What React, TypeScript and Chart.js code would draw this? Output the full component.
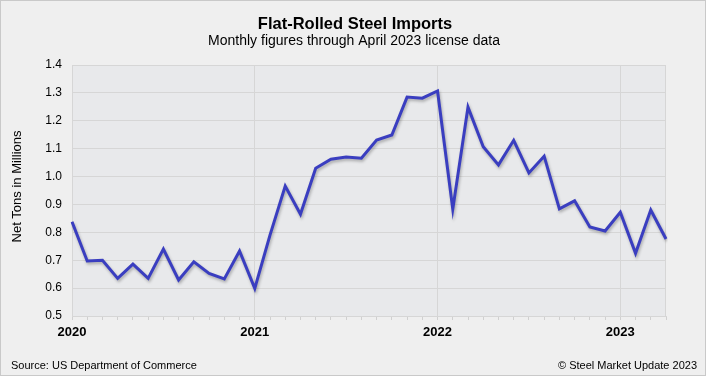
import React, { useEffect, useRef } from "react";
import { Chart, registerables } from "chart.js";

Chart.register(...registerables);

const MONTHS = ["Jan", "Feb", "Mar", "Apr", "May", "Jun", "Jul", "Aug", "Sep", "Oct", "Nov", "Dec"];
const YEARS = [2020, 2021, 2022, 2023];

const imports2020 = [0.838, 0.697, 0.700, 0.635, 0.686, 0.635, 0.740, 0.629, 0.694, 0.653, 0.633, 0.733];
const imports2021 = [0.599, 0.790, 0.966, 0.865, 1.030, 1.062, 1.070, 1.066, 1.131, 1.149, 1.285, 1.281];
const imports2022 = [1.307, 0.883, 1.249, 1.107, 1.042, 1.130, 1.013, 1.073, 0.884, 0.913, 0.819, 0.805];
const imports2023 = [0.872, 0.725, 0.880, 0.776];

const yTicks = [0.5, 0.6, 0.7, 0.8, 0.9, 1.0, 1.1, 1.2, 1.3, 1.4];

const TITLE = "Flat-Rolled Steel Imports";
const SUBTITLE = "Monthly figures through April 2023 license data";
const Y_TITLE = "Net Tons in Millions";
const SOURCE = "Source: US Department of Commerce";
const COPYRIGHT = "\u00A9 Steel Market Update 2023";

const FONT = "'Liberation Sans', Arial, sans-serif";

export default function App() {
  const ref = useRef<HTMLCanvasElement>(null);

  useEffect(() => {
    const values = [...imports2020, ...imports2021, ...imports2022, ...imports2023];
    const labels: string[] = [];
    const yearBuckets = [imports2020, imports2021, imports2022, imports2023];
    yearBuckets.forEach((arr, yi) => {
      arr.forEach((_, mi) => labels.push(`${MONTHS[mi]} ${YEARS[yi]}`));
    });

    const decor = {
      id: "decor",
      beforeDraw(chart: any) {
        const { ctx, chartArea } = chart;
        ctx.save();
        ctx.fillStyle = "#efefef";
        ctx.fillRect(0, 0, chart.width, chart.height);
        ctx.strokeStyle = "#c9c9c9";
        ctx.lineWidth = 1;
        ctx.strokeRect(0.5, 0.5, chart.width - 1, chart.height - 1);
        ctx.fillStyle = "#e8e9eb";
        ctx.fillRect(chartArea.left, chartArea.top, chartArea.right - chartArea.left, chartArea.bottom - chartArea.top);
        ctx.restore();
      },
      beforeDatasetsDraw(chart: any) {
        const { ctx, chartArea } = chart;
        ctx.save();
        ctx.strokeStyle = "#d6d6d6";
        ctx.lineWidth = 1;
        ctx.beginPath();
        ctx.moveTo(Math.round(chartArea.right) - 0.5, chartArea.top);
        ctx.lineTo(Math.round(chartArea.right) - 0.5, chartArea.bottom);
        ctx.stroke();
        ctx.restore();
      },
      beforeDatasetDraw(chart: any) {
        const ctx = chart.ctx;
        ctx.save();
        ctx.shadowColor = "rgba(0,0,0,0.28)";
        ctx.shadowBlur = 3;
        ctx.shadowOffsetX = 1;
        ctx.shadowOffsetY = 2;
      },
      afterDatasetDraw(chart: any) {
        chart.ctx.restore();
      },
      afterDraw(chart: any) {
        const { ctx, chartArea } = chart;
        ctx.save();
        ctx.fillStyle = "#000";
        ctx.textAlign = "center";
        ctx.textBaseline = "alphabetic";
        ctx.font = `bold 16.5px ${FONT}`;
        ctx.fillText(TITLE, 355, 28.5);
        ctx.font = `14px ${FONT}`;
        ctx.fillText(SUBTITLE, 354, 44.5);

        ctx.font = `13px ${FONT}`;
        ctx.translate(17, (chartArea.top + chartArea.bottom) / 2 - 4);
        ctx.rotate(-Math.PI / 2);
        ctx.textBaseline = "middle";
        ctx.fillText(Y_TITLE, 0, 0);
        ctx.restore();

        ctx.save();
        ctx.fillStyle = "#000";
        ctx.font = `11px ${FONT}`;
        ctx.textBaseline = "middle";
        ctx.textAlign = "left";
        ctx.fillText(SOURCE, 11, 366);
        ctx.textAlign = "right";
        ctx.fillText(COPYRIGHT, 697, 366);
        ctx.restore();
      },
    };

    const chart = new Chart(ref.current!, {
      type: "line",
      data: {
        labels,
        datasets: [
          {
            data: values,
            borderColor: "#3a3ec0",
            borderWidth: 3,
            pointRadius: 0,
            tension: 0,
            fill: false,
          },
        ],
      },
      options: {
        animation: false,
        responsive: false,
        events: [],
        layout: { padding: { left: 0, right: 40, top: 65, bottom: 0 } },
        plugins: {
          legend: { display: false },
          tooltip: { enabled: false },
          title: { display: false },
        },
        scales: {
          x: {
            type: "category",
            offset: false,
            afterFit(scale: any) {
              scale.height = 60;
            },
            border: { color: "#d6d6d6", width: 1 },
            grid: {
              color: (c: any) => (c.index % 12 === 0 ? "#d6d6d6" : "transparent"),
              tickColor: "#d0d0d0",
              tickLength: 4,
              drawOnChartArea: true,
            },
            ticks: {
              autoSkip: false,
              maxRotation: 0,
              padding: 5,
              color: "#000",
              font: { family: FONT, size: 13, weight: "bold" },
              callback: (_v: any, i: number) => (i % 12 === 0 ? String(YEARS[i / 12]) : ""),
            },
          },
          y: {
            min: yTicks[0],
            max: yTicks[yTicks.length - 1],
            afterFit(scale: any) {
              scale.width = 72;
            },
            afterBuildTicks(scale: any) {
              scale.ticks = yTicks.map((v) => ({ value: v }));
            },
            border: { display: false },
            grid: { color: "#d6d6d6", drawTicks: false },
            ticks: {
              padding: 10,
              color: "#000",
              font: { family: FONT, size: 12 },
              callback: (v: any) => Number(v).toFixed(1),
            },
          },
        },
      },
      plugins: [decor],
    });
    return () => chart.destroy();
  }, []);

  return (
    <div style={{ position: "absolute", left: 0, top: 0, width: 706, height: 376 }}>
      <canvas ref={ref} width={706} height={376} style={{ display: "block" }} />
    </div>
  );
}
